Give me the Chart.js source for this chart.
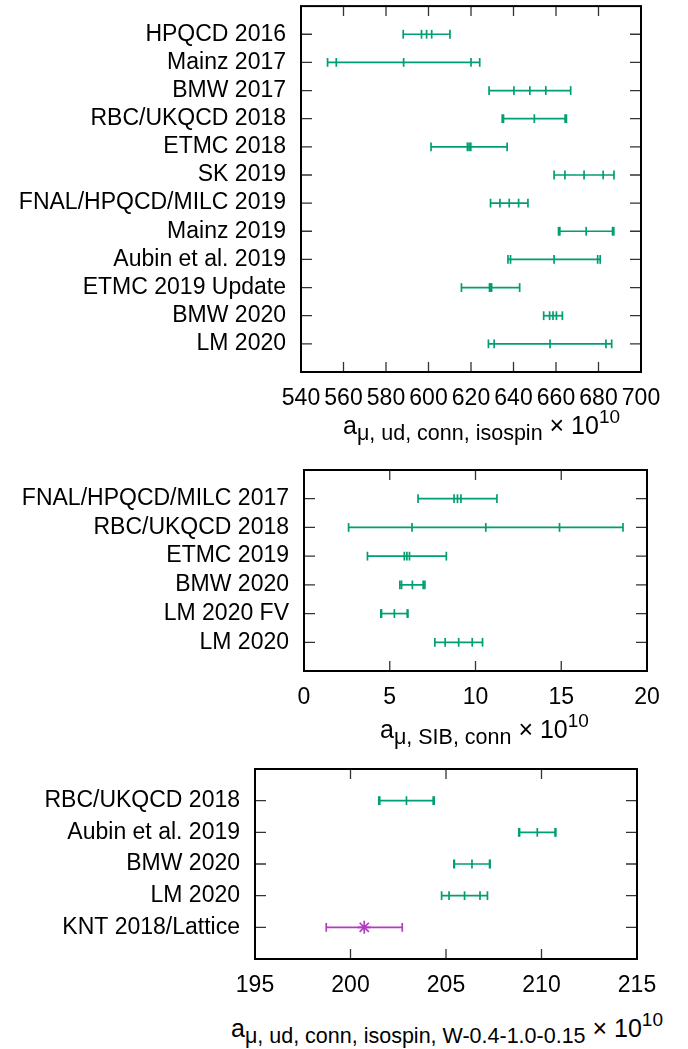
<!DOCTYPE html>
<html>
<head>
<meta charset="utf-8">
<script src="https://cdn.jsdelivr.net/npm/chart.js@4.4.0/dist/chart.umd.min.js"></script>
<style>
  body { margin: 0; background: #fff; width: 688px; height: 1049px; position: relative; overflow: hidden;
         font-family: "Liberation Sans", Arial, Helvetica, sans-serif; color: #000; }
  .panel { position: absolute; left: 0; width: 688px; }
  .xtitle { position: absolute; font-size: 25px; line-height: 25px; white-space: nowrap; }
  .xtitle .sb { font-size: 21.5px; line-height: 0; vertical-align: -6px; }
  .xtitle .sp { font-size: 19px; line-height: 0; vertical-align: 11px; }
</style>
</head>
<body>
<div class="panel" id="p1" style="top:0;height:412px"><canvas id="c1"></canvas></div>
<div class="panel" id="p2" style="top:448px;height:262px"><canvas id="c2"></canvas></div>
<div class="panel" id="p3" style="top:748px;height:252px"><canvas id="c3"></canvas></div>

<div class="xtitle" style="left:343px;top:413px">a<span class="sb">μ, ud, conn, isospin</span> × 10<span class="sp">10</span></div>
<div class="xtitle" style="left:380px;top:717px">a<span class="sb">μ, SIB, conn</span> × 10<span class="sp">10</span></div>
<div class="xtitle" style="left:231px;top:1016px">a<span class="sb">μ, ud, conn, isospin, W-0.4-1.0-0.15</span> × 10<span class="sp">10</span></div>

<script>
// panel 1: a_mu ud conn isospin
var labels1 = ['HPQCD 2016', 'Mainz 2017', 'BMW 2017', 'RBC/UKQCD 2018', 'ETMC 2018', 'SK 2019',
               'FNAL/HPQCD/MILC 2019', 'Mainz 2019', 'Aubin et al. 2019', 'ETMC 2019 Update', 'BMW 2020', 'LM 2020'];
var center1 = [599.1, 588.3, 647.7, 649.8, 619.1, 673.2, 638.0, 674.2, 659.1, 629.2, 658.6, 657.2];
var stat1   = [2.4, 31.7, 7.5, 14.5, 0.8, 9.0, 4.4, 12.4, 20.5, 0.5, 1.6, 26.3];
var total1  = [11.0, 35.8, 19.2, 15.1, 17.9, 14.1, 8.8, 13.0, 21.7, 13.7, 4.4, 29.0];
var ticks1  = [540, 560, 580, 600, 620, 640, 660, 680, 700];

// panel 2: a_mu SIB conn
var labels2 = ['FNAL/HPQCD/MILC 2017', 'RBC/UKQCD 2018', 'ETMC 2019', 'BMW 2020', 'LM 2020 FV', 'LM 2020'];
var center2 = [8.95, 10.6, 6.0, 6.32, 5.27, 9.02];
var stat2   = [0.2, 4.3, 0.15, 0.63, 0.75, 0.79];
var total2  = [2.3, 8.0, 2.3, 0.73, 0.79, 1.39];
var ticks2  = [0, 5, 10, 15, 20];

// panel 3: window
var labels3 = ['RBC/UKQCD 2018', 'Aubin et al. 2019', 'BMW 2020', 'LM 2020', 'KNT 2018/Lattice'];
var center3 = [202.93, 209.78, 206.36, 205.97, 200.72];
var stat3   = [1.4, 0.93, 0.92, 0.81, null];
var total3  = [1.45, 0.97, 0.95, 1.2, 1.99];
var ticks3  = [195, 200, 205, 210, 215];
var pheno3  = ['KNT 2018/Lattice'];

var GREEN = '#009e73';
var MAGENTA = '#b03cbe';
var FONT = '"Liberation Sans", Arial, Helvetica, sans-serif';

// ticks inside the box on all four sides, plus the frame
var framePlugin = {
    id: 'frame',
    beforeDatasetsDraw: function (chart) {
        var ctx = chart.ctx, a = chart.chartArea;
        var xs = chart.scales.x, ys = chart.scales.y;
        ctx.save();
        ctx.strokeStyle = '#333';
        ctx.lineWidth = 1.3;
        ctx.beginPath();
        xs.ticks.forEach(function (t) {
            var px = xs.getPixelForValue(t.value);
            ctx.moveTo(px, a.bottom); ctx.lineTo(px, a.bottom - 10);
            ctx.moveTo(px, a.top); ctx.lineTo(px, a.top + 10);
        });
        ys.ticks.forEach(function (t) {
            var py = ys.getPixelForValue(t.value);
            ctx.moveTo(a.left, py); ctx.lineTo(a.left + 11, py);
            ctx.moveTo(a.right, py); ctx.lineTo(a.right - 11, py);
        });
        ctx.stroke();
        ctx.strokeStyle = '#000';
        ctx.lineWidth = 2;
        ctx.strokeRect(a.left, a.top, a.right - a.left, a.bottom - a.top);
        ctx.restore();
    }
};

function buildDatasets(center, stat, total, special) {
    var sets = [];
    center.forEach(function (c, i) {
        var col = special[i] ? MAGENTA : GREEN;
        var cap = { pointStyle: 'line', rotation: 90, pointRadius: 4.4, pointHoverRadius: 4.4,
                    pointBorderColor: col, pointBorderWidth: 1.7 };
        sets.push(Object.assign({
            data: [{ x: c - total[i], y: i }, { x: c + total[i], y: i }],
            showLine: true, borderColor: col, borderWidth: 1.7
        }, cap));
        if (stat[i] !== null) {
            sets.push(Object.assign({
                data: [{ x: c - stat[i], y: i }, { x: c + stat[i], y: i }]
            }, cap));
        }
        if (special[i]) {
            sets.push({ data: [{ x: c, y: i }], pointStyle: 'star', pointRadius: 6.5, pointHoverRadius: 6.5,
                        pointBorderColor: col, pointBorderWidth: 1.7 });
        } else {
            sets.push(Object.assign({ data: [{ x: c, y: i }] }, cap));
        }
    });
    return sets;
}

function noPad(s) { s.paddingTop = 0; s.paddingBottom = 0; s.paddingLeft = 0; s.paddingRight = 0; }

function makePanel(id, divTop, divHeight, area, labels, center, stat, total, ticks, special) {
    var top = area.top - divTop, bottom = area.bottom - divTop;
    return new Chart(document.getElementById(id), {
        type: 'scatter',
        data: { datasets: buildDatasets(center, stat, total, special) },
        options: {
            responsive: true,
            maintainAspectRatio: false,
            animation: false,
            events: [],
            layout: { padding: { top: top, right: 688 - area.right, left: 0, bottom: 0 } },
            plugins: { legend: { display: false }, tooltip: { enabled: false } },
            scales: {
                x: {
                    type: 'linear', position: 'bottom',
                    min: ticks[0], max: ticks[ticks.length - 1],
                    afterBuildTicks: function (s) { s.ticks = ticks.map(function (v) { return { value: v }; }); },
                    afterFit: function (s) { s.height = divHeight - bottom; noPad(s); },
                    grid: { display: false, drawTicks: false },
                    border: { display: false },
                    ticks: { autoSkip: false, maxRotation: 0, color: '#000', padding: 13,
                             font: { family: FONT, size: 23 } }
                },
                y: {
                    type: 'linear', reverse: true, min: -1, max: labels.length,
                    afterBuildTicks: function (s) { s.ticks = labels.map(function (l, i) { return { value: i }; }); },
                    afterFit: function (s) { s.width = area.left; noPad(s); },
                    grid: { display: false, drawTicks: false },
                    border: { display: false },
                    ticks: { color: '#000', padding: 15, font: { family: FONT, size: 23 },
                             callback: function (v) { return labels[v]; } }
                }
            }
        },
        plugins: [framePlugin]
    });
}

function noSpecial(labels) { return labels.map(function () { return false; }); }

makePanel('c1', 0, 412, { left: 301, right: 641, top: 3, bottom: 372 },
          labels1, center1, stat1, total1, ticks1, noSpecial(labels1));
makePanel('c2', 448, 262, { left: 304, right: 647, top: 470, bottom: 671 },
          labels2, center2, stat2, total2, ticks2, noSpecial(labels2));
makePanel('c3', 748, 252, { left: 255, right: 637, top: 769, bottom: 959 },
          labels3, center3, stat3, total3, ticks3,
          labels3.map(function (l) { return pheno3.indexOf(l) >= 0; }));
</script>
</body>
</html>
